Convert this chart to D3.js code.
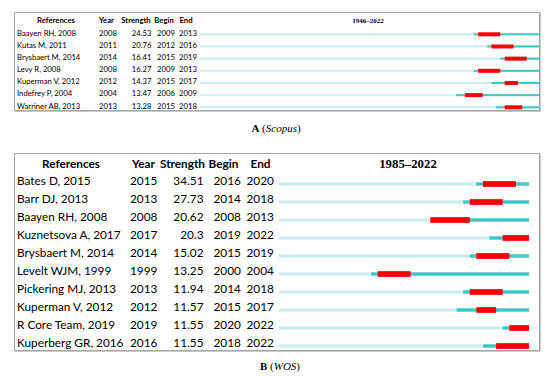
<!DOCTYPE html>
<html>
<head>
<meta charset="utf-8">
<script src="https://cdn.jsdelivr.net/npm/d3@7/dist/d3.min.js"></script>
<style>
  html, body { margin: 0; padding: 0; background: #fff; }
  svg { display: block; }
</style>
</head>
<body>
<svg id="chart" width="550" height="376"></svg>
<script>
// ---- Panel A (Scopus) data ----
const refsA = ["Baayen RH, 2008", "Kutas M, 2011", "Brysbaert M, 2014", "Levy R, 2008", "Kuperman V, 2012", "Indefrey P, 2004", "Warriner AB, 2013"];
const yearA = [2008, 2011, 2014, 2008, 2012, 2004, 2013];
const strengthA = ["24.53", "20.76", "16.41", "16.27", "14.37", "13.47", "13.28"];
const beginA = [2009, 2012, 2015, 2009, 2015, 2006, 2015];
const endA = [2013, 2016, 2019, 2013, 2017, 2009, 2018];
const rangeA = [1946, 2022];

// ---- Panel B (WOS) data ----
const refsB = ["Bates D, 2015", "Barr DJ, 2013", "Baayen RH, 2008", "Kuznetsova A, 2017", "Brysbaert M, 2014", "Levelt WJM, 1999", "Pickering MJ, 2013", "Kuperman V, 2012", "R Core Team, 2019", "Kuperberg GR, 2016"];
const yearB = [2015, 2013, 2008, 2017, 2014, 1999, 2013, 2012, 2019, 2016];
const strengthB = ["34.51", "27.73", "20.62", "20.3", "15.02", "13.25", "11.94", "11.57", "11.55", "11.55"];
const beginB = [2016, 2014, 2008, 2019, 2015, 2000, 2014, 2015, 2020, 2018];
const endB = [2020, 2018, 2013, 2022, 2019, 2004, 2018, 2017, 2022, 2022];
const rangeB = [1985, 2022];

const headers = ["References", "Year", "Strength", "Begin", "End"];

const svg = d3.select("#chart");
const sans = "Lato, 'Open Sans', sans-serif";
const serif = "'Liberation Serif', 'DejaVu Serif', serif";
const COL_LIGHT = "#cdeef0", COL_CYAN = "#3fc6c6", COL_RED = "#ff0000";

function panel(cfg) {
  const g = svg.append("g");
  const n = cfg.refs.length;
  const rows = d3.range(n);
  const y = d3.scalePoint().domain(rows).range([cfg.y0, cfg.y1]);
  const x = d3.scaleLinear().domain([cfg.range[0], cfg.range[1] + 1]).range([cfg.x0, cfg.x1]);

  // frame
  g.append("rect").attr("x", cfg.box[0] + 0.5).attr("y", cfg.box[1] + 0.5)
    .attr("width", cfg.box[2] - cfg.box[0]).attr("height", cfg.box[3] - cfg.box[1])
    .attr("fill", "none").attr("stroke", "#a8a8a8").attr("stroke-width", 1);
  g.append("path")
    .attr("d", `M${cfg.box[2] + 1.5},${cfg.box[1] + 1}V${cfg.box[3] + 1.5}H${cfg.box[0] + 1}`)
    .attr("fill", "none").attr("stroke", "#c8c8c8").attr("stroke-width", 1);

  // headers
  const hx = cfg.headX;
  headers.forEach((h, i) => {
    g.append("text").attr("x", hx[i]).attr("y", cfg.headY)
      .attr("text-anchor", cfg.headAnchor[i])
      .attr("font-family", sans).attr("font-weight", "bold")
      .attr("font-size", cfg.fs).attr("fill", "#000").text(h);
  });
  g.append("text").attr("x", cfg.titleX).attr("y", cfg.headY)
    .attr("text-anchor", "middle").attr("font-family", serif).attr("font-weight", "bold")
    .attr("font-size", cfg.titleFs).attr("fill", "#000")
    .text(cfg.range[0] + "\u2013" + cfg.range[1]);

  // rows text
  const cols = [cfg.refs, cfg.year, cfg.strength, cfg.begin, cfg.end];
  const anchors = ["start", "start", "end", "start", "start"];
  cols.forEach((col, ci) => {
    g.selectAll(null).data(rows).enter().append("text")
      .attr("x", cfg.colX[ci]).attr("y", d => y(d) + cfg.textDy)
      .attr("text-anchor", anchors[ci])
      .attr("font-family", sans).attr("font-size", cfg.fs).attr("fill", "#000")
      .text(d => col[d]);
  });

  // bars
  g.selectAll(null).data(rows).enter().append("rect")
    .attr("x", x(cfg.range[0])).attr("width", x(cfg.range[1] + 1) - x(cfg.range[0]))
    .attr("y", d => y(d) - cfg.thin / 2).attr("height", cfg.thin).attr("fill", COL_LIGHT);
  g.selectAll(null).data(rows).enter().append("rect")
    .attr("x", d => x(cfg.year[d])).attr("width", d => x(cfg.range[1] + 1) - x(cfg.year[d]))
    .attr("y", d => y(d) - cfg.thin / 2).attr("height", cfg.thin).attr("fill", COL_CYAN);
  g.selectAll(null).data(rows).enter().append("rect")
    .attr("x", d => x(cfg.begin[d])).attr("width", d => x(cfg.end[d] + 1) - x(cfg.begin[d]))
    .attr("y", d => y(d) - cfg.thick / 2).attr("height", cfg.thick).attr("fill", COL_RED);

  // caption
  const cap = g.append("text").attr("x", cfg.capX).attr("y", cfg.capY)
    .attr("text-anchor", "middle").attr("font-family", serif).attr("font-size", cfg.capFs).attr("fill", "#000");
  cap.append("tspan").attr("font-weight", "bold").text(cfg.capLetter);
  cap.append("tspan").text(" (");
  cap.append("tspan").attr("font-style", "italic").text(cfg.capName);
  cap.append("tspan").text(")");
}

panel({
  refs: refsA, year: yearA, strength: strengthA, begin: beginA, end: endA, range: rangeA,
  box: [14, 12, 539, 110],
  y0: 34.3, y1: 107.3, x0: 200, x1: 540,
  fs: 7.7, titleFs: 7, textDy: 1.2,
  headY: 23, headX: [56, 99, 136, 164, 186], headAnchor: ["middle", "start", "middle", "middle", "middle"],
  colX: [17, 99, 151.5, 157, 179],
  titleX: 368,
  thin: 2, thick: 4,
  capX: 276, capY: 131.5, capFs: 11, capLetter: "A", capName: "Scopus"
});

panel({
  refs: refsB, year: yearB, strength: strengthB, begin: beginB, end: endB, range: rangeB,
  box: [14, 153, 539, 350],
  y0: 184, y1: 346, x0: 279, x1: 529,
  fs: 11.8, titleFs: 12.8, textDy: 0.5,
  headY: 168, headX: [71, 132, 182.5, 223.5, 260.5], headAnchor: ["middle", "start", "middle", "middle", "middle"],
  colX: [17, 130, 203.5, 213.5, 246.5],
  titleX: 408,
  thin: 3.3, thick: 5.7,
  capX: 280, capY: 370, capFs: 11, capLetter: "B", capName: "WOS"
});
</script>
</body>
</html>
